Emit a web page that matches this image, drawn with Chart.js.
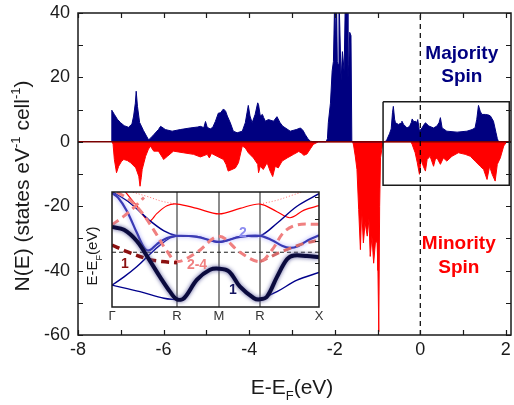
<!DOCTYPE html>
<html>
<head>
<meta charset="utf-8">
<script src="https://cdn.jsdelivr.net/npm/chart.js@4.4.0/dist/chart.umd.min.js"></script>
<style>
  body { margin: 0; background: #fff; }
  #wrap { position: relative; width: 514px; height: 405px; }
  #main { position: absolute; left: 0; top: 0; }
  #inset { position: absolute; left: 80px; top: 186px; }
</style>
</head>
<body>
<div id="wrap">
  <canvas id="main" width="514" height="405"></canvas>
  <canvas id="inset" width="250" height="140"></canvas>
</div>
<script>
// density of states, majority spin (E in eV, N in states/eV/cell)
let majE = [-7.22,-7.21,-7.15,-7.08,-7.01,-6.92,-6.82,-6.74,-6.70,-6.66,
  -6.64,-6.61,-6.56,-6.47,-6.40,-6.35,-6.30,-6.23,-6.12,-6.07,
  -6.00,-5.96,-5.80,-5.61,-5.38,-5.20,-5.14,-5.06,-5.02,-4.98,
  -4.91,-4.85,-4.79,-4.72,-4.67,-4.60,-4.55,-4.51,-4.44,-4.37,
  -4.28,-4.16,-4.09,-4.05,-4.02,-3.98,-3.93,-3.86,-3.80,-3.78,
  -3.74,-3.69,-3.66,-3.62,-3.55,-3.43,-3.35,-3.28,-3.22,-3.04,
  -2.90,-2.80,-2.74,-2.69,-2.63,-2.57,-2.50,-2.20,-2.17,-2.15,
  -2.10,-2.06,-2.03,-2.00,-1.98,-1.96,-1.94,-1.92,-1.90,-1.88,
  -1.85,-1.82,-1.78,-1.75,-1.71,-1.69,-1.67,-1.65,-1.62,-1.60,
  -0.82,-0.78,-0.72,-0.68,-0.65,-0.63,-0.60,-0.58,-0.51,-0.45,
  -0.43,-0.39,-0.31,-0.25,-0.21,-0.19,-0.15,-0.12,-0.08,-0.06,
  -0.02,0.04,0.08,0.12,0.20,0.31,0.39,0.44,0.47,0.51,
  0.62,0.86,1.09,1.21,1.28,1.32,1.36,1.40,1.44,1.52,
  1.60,1.64,1.71,1.77,1.80,1.83];
let majN = [0,9.8,8.5,7,6,5,4.5,5.5,8,12,
  15.7,11,6,3.5,1.8,0.6,1.2,2.2,3.8,4.8,
  4.2,3.8,3.3,3.8,4.3,4.6,4.8,4.4,6.3,4.5,
  4.0,4.5,6.3,8.9,9.0,10.2,9.5,8,5.9,3.3,
  2.8,3.3,5.9,9,11.3,8,5.9,8.5,12.1,11.5,
  8,8.5,7.5,6.4,6.9,6.4,7.8,6,4.9,3.3,
  3.8,4.3,3.5,2.3,1,0.2,0,0,1,5.9,
  12,22,25,45,30,46,25,24,45,35,
  19,28,22,46,45,20,24,34,33,0,
  0,0.7,2.5,4,9,11,7,5.9,5.4,5.8,
  6.4,5.4,4.3,4.8,6,7.1,6.2,6.4,6.0,6.9,
  3.3,4.3,5.2,5.9,4.9,4.3,4.9,6,7.5,4.3,
  3.3,3.0,3.3,3.8,4.3,7,11.3,9.5,8.5,8.5,
  8.3,8,6.4,2.8,1,0];

// minority spin (drawn negative)
let minE = [-7.20,-7.18,-7.15,-7.10,-7.05,-6.98,-6.93,-6.85,-6.77,-6.65,
  -6.58,-6.55,-6.52,-6.50,-6.42,-6.36,-6.31,-6.23,-6.12,-6.03,
  -6.00,-5.91,-5.77,-5.54,-5.30,-5.14,-4.98,-4.93,-4.88,-4.75,
  -4.60,-4.54,-4.49,-4.40,-4.32,-4.25,-4.16,-4.09,-4.02,-3.90,
  -3.80,-3.78,-3.74,-3.67,-3.58,-3.51,-3.45,-3.39,-3.32,-3.23,
  -3.11,-2.96,-2.84,-2.78,-2.72,-2.65,-2.56,-2.50,-2.38,-1.58,
  -1.56,-1.52,-1.48,-1.44,-1.40,-1.37,-1.33,-1.29,-1.24,-1.20,
  -1.17,-1.13,-1.09,-1.05,-1.01,-0.99,-0.97,-0.95,-0.93,-0.90,
  -0.87,-0.22,-0.19,-0.12,-0.07,-0.02,0.02,0.07,0.12,0.16,
  0.23,0.31,0.35,0.39,0.47,0.54,0.62,0.74,0.89,1.05,
  1.17,1.28,1.40,1.48,1.56,1.62,1.68,1.75,1.80,1.87,
  1.95,2.02];
let minN = [0,-0.8,-5.5,-9.6,-7.6,-6,-5.5,-5.8,-6.5,-8.1,
  -10.7,-13.8,-11,-8.6,-4.5,-2.5,-1.3,-2.9,-2.9,-4.8,
  -5.5,-4.5,-2.9,-3.4,-3.9,-4.7,-3.9,-5,-3.6,-4.5,
  -5.5,-7,-9.1,-8.6,-8.1,-6.5,-1.3,-1.9,-3.4,-5,
  -7,-9.6,-7.6,-8.6,-6.5,-9.1,-10.8,-7.6,-8.1,-6,
  -5,-3.9,-3.0,-3.5,-4.2,-3.8,-2,-0.8,0,0,
  -1,-4.4,-8.6,-21,-33.5,-21,-31.4,-25,-29.3,-24,
  -35.6,-29.3,-37.7,-31.4,-31,-40,-59,-20,-5,-2.4,
  0,0,-0.8,-3.4,-6.5,-10.1,-5.5,-7.6,-9.1,-5.5,
  -4.5,-7.6,-5.5,-5,-7,-5,-6,-4.5,-3.4,-3.9,
  -4.5,-6,-7.6,-8.6,-11.7,-7.6,-10.1,-12.2,-7,-5,
  -1.3,0];

// zoom box around the Fermi level
let boxE = [-0.87, 2.08, 2.08, -0.87, -0.87];
let boxN = [12.4, 12.4, -13.5, -13.5, 12.4];

// inset: band structure along the k path
let kTicks = [0, 65, 107, 148, 207];
let kLabels = ['Γ', 'R', 'M', 'R', 'X'];

let band1K = [0,12,25,37,48,58,65,72,85,98,107,117,128,142,148,155,165,175,182,195,207];
let band1E = [0.46,0.41,0.20,-0.13,-0.45,-0.72,-0.86,-0.84,-0.50,-0.32,-0.30,-0.35,-0.63,-0.84,-0.86,-0.81,-0.45,-0.13,-0.06,-0.07,-0.09];
let band2K = [0,6,15,25,33,38,45,55,65,85,107,128,148,160,170,178,186,196,207];
let band2E = [1.08,1.0,0.75,0.35,0.06,0.04,0.15,0.26,0.30,0.28,0.19,0.28,0.30,0.22,0.12,0.08,0.11,0.22,0.31];
let navyTopK = [0,18,37,52,65,85,107,128,148,165,185,207];
let navyTopE = [1.11,0.90,0.59,0.39,0.30,0.29,0.18,0.29,0.30,0.53,0.84,1.07];
let navyRiseK = [0,12,25,37,48,58,65];
let navyRiseE = [-0.60,-0.45,-0.26,-0.05,0.13,0.26,0.30];
let navyLowK = [0,28,52,65,107,148,165,185,207];
let navyLowE = [-0.60,-0.72,-0.84,-0.87,null,-0.86,-0.72,-0.51,-0.37];
let redK = [13,25,37,45,55,65,85,107,128,148,165,178,192,207];
let redE = [1.11,0.84,0.57,0.71,0.85,0.88,0.80,0.70,0.80,0.88,0.74,0.63,0.77,0.85];
let dotK = [18,35,50,65,107,148,165,180,192];
let dotE = [1.11,1.02,0.93,0.88,null,0.88,0.95,1.04,1.11];
let pinkK = [5,18,30,42,55,65,85,107,128,148,160,172,185,207];
let pinkE = [1.1,0.95,0.72,0.4,0.02,-0.17,0.0,0.29,0.0,-0.17,0.04,0.37,0.50,0.51];
let pinkLeftK = [0,12,22,32];
let pinkLeftE = [0.50,0.66,0.82,1.0];
let darkRedK = [0,15,37,50,65];
let darkRedE = [0.13,0.01,-0.13,-0.17,-0.19];
let rightDashK = [148,158,168,178,192,207];
let rightDashE = [-0.17,-0.09,0.0,0.07,0.16,0.22];
let fermiK = [0, 207];
let fermiE = [0, 0];

const FONT = '"Liberation Sans", Arial, sans-serif';

function pts(xs, ys) {
    return xs.map((x, i) => ({x: x, y: ys[i]}));
}

// text with sub/superscript pieces: [text, 0 normal | 1 sup | -1 sub]
function richText(ctx, parts, cx, cy, size, angle, color) {
    ctx.save();
    ctx.translate(cx, cy);
    ctx.rotate(angle);
    ctx.fillStyle = color;
    ctx.textBaseline = 'alphabetic';
    ctx.textAlign = 'left';
    let total = 0;
    let sized = parts.map(p => {
        let fs = p[1] === 0 ? size : Math.round(size * 0.62);
        ctx.font = fs + 'px ' + FONT;
        let w = ctx.measureText(p[0]).width;
        total += w;
        return [p[0], p[1], fs, w];
    });
    let x = -total / 2;
    sized.forEach(s => {
        ctx.font = s[2] + 'px ' + FONT;
        let dy = s[1] > 0 ? -size * 0.42 : (s[1] < 0 ? size * 0.3 : 0);
        ctx.fillText(s[0], x, dy);
        x += s[3];
    });
    ctx.restore();
}

// main plot decorations: frame, inward ticks, titles, labels
const mainDeco = {
    id: 'mainDeco',
    afterDraw(c) {
        const ctx = c.ctx, a = c.chartArea, x = c.scales.x, y = c.scales.y;
        ctx.save();
        ctx.strokeStyle = '#1a1a1a';
        ctx.lineWidth = 1.5;
        ctx.strokeRect(a.left, a.top, a.right - a.left, a.bottom - a.top);
        ctx.lineWidth = 1.2;
        ctx.beginPath();
        for (let v = -8; v <= 2; v++) {
            let px = Math.round(x.getPixelForValue(v)) + 0.5;
            ctx.moveTo(px, a.bottom); ctx.lineTo(px, a.bottom - 5);
            ctx.moveTo(px, a.top); ctx.lineTo(px, a.top + 5);
        }
        for (let v = -60; v <= 40; v += 10) {
            let py = Math.round(y.getPixelForValue(v)) + 0.5;
            ctx.moveTo(a.left, py); ctx.lineTo(a.left + 5, py);
            ctx.moveTo(a.right, py); ctx.lineTo(a.right - 5, py);
        }
        ctx.stroke();

        ctx.font = 'bold 19px ' + FONT;
        ctx.textAlign = 'center';
        ctx.textBaseline = 'alphabetic';
        ctx.fillStyle = '#000080';
        ctx.fillText('Majority', x.getPixelForValue(0.97), y.getPixelForValue(25.6));
        ctx.fillText('Spin', x.getPixelForValue(0.97), y.getPixelForValue(18.7));
        ctx.fillStyle = '#ff0000';
        ctx.fillText('Minority', x.getPixelForValue(0.9), y.getPixelForValue(-33.4));
        ctx.fillText('Spin', x.getPixelForValue(0.9), y.getPixelForValue(-40.6));
        ctx.restore();

        richText(ctx, [['N(E) (states eV', 0], ['-1', 1], [' cell', 0], ['-1', 1], [')', 0]],
            29, 186, 21, -Math.PI / 2, '#1a1a1a');
        richText(ctx, [['E-E', 0], ['F', -1], ['(eV)', 0]], 292, 394, 21, 0, '#1a1a1a');
    }
};

const tickFont = {family: FONT, size: 18};

new Chart(document.getElementById('main'), {
    type: 'line',
    data: {
        datasets: [
            {data: pts(boxE, boxN), borderColor: '#1a1a1a', borderWidth: 1.5, fill: false},
            {data: pts([0, 0], [-60, 40]), borderColor: '#000', borderWidth: 1.2, borderDash: [5, 4], fill: false},
            {data: pts([-8, 2.12], [0, 0]), borderColor: '#7a0000', borderWidth: 1.5, fill: false},
            {data: pts(majE, majN), borderColor: '#000080', backgroundColor: '#000080', borderWidth: 1, fill: 'origin'},
            {data: pts(minE, minN), borderColor: '#ff0000', backgroundColor: '#ff0000', borderWidth: 1, fill: 'origin'}
        ]
    },
    options: {
        responsive: false,
        animation: false,
        elements: {point: {radius: 0}, line: {tension: 0}},
        layout: {padding: {top: 13, right: 3, left: 0, bottom: 0}},
        plugins: {legend: {display: false}, tooltip: {enabled: false}},
        scales: {
            x: {
                type: 'linear', min: -8, max: 2.12,
                ticks: {stepSize: 2, includeBounds: false, font: tickFont, color: '#1a1a1a', padding: 4, maxRotation: 0},
                grid: {display: false, drawTicks: false},
                border: {display: false},
                afterFit(s) { s.height = 70; s.paddingLeft = 0; s.paddingRight = 0; }
            },
            y: {
                min: -60, max: 40,
                ticks: {stepSize: 20, font: tickFont, color: '#1a1a1a', padding: 8},
                grid: {display: false, drawTicks: false},
                border: {display: false},
                afterFit(s) { s.width = 78; s.paddingTop = 0; s.paddingBottom = 0; }
            }
        }
    },
    plugins: [mainDeco]
});

// soft glow behind the two highlighted bands (dataset indexes 0 and 5)
const glow = {0: '#5a5a9a', 5: '#a8a8ff'};

// inset decorations
const insetDeco = {
    id: 'insetDeco',
    beforeDraw(c) {
        const ctx = c.ctx, a = c.chartArea;
        ctx.save();
        ctx.fillStyle = '#fff';
        ctx.fillRect(a.left, a.top, a.right - a.left, a.bottom - a.top);
        ctx.restore();
    },
    beforeDatasetDraw(c, args) {
        c.ctx.save();
        if (glow[args.index]) {
            c.ctx.shadowColor = glow[args.index];
            c.ctx.shadowBlur = 4;
        }
    },
    afterDatasetDraw(c) {
        c.ctx.restore();
    },
    afterDatasetsDraw(c) {
        const ctx = c.ctx, x = c.scales.x, y = c.scales.y;
        ctx.save();
        ctx.font = 'bold 14px ' + FONT;
        ctx.textAlign = 'center';
        ctx.textBaseline = 'middle';
        ctx.fillStyle = '#8b1010';
        ctx.fillText('1', x.getPixelForValue(13), y.getPixelForValue(-0.22));
        ctx.fillStyle = '#f08080';
        ctx.fillText('2-4', x.getPixelForValue(85), y.getPixelForValue(-0.24));
        ctx.fillStyle = '#8c8cf0';
        ctx.fillText('2', x.getPixelForValue(131), y.getPixelForValue(0.35));
        ctx.fillStyle = '#141460';
        ctx.fillText('1', x.getPixelForValue(121), y.getPixelForValue(-0.69));
        ctx.restore();
    },
    afterDraw(c) {
        const ctx = c.ctx, a = c.chartArea, y = c.scales.y;
        ctx.save();
        ctx.strokeStyle = '#1a1a1a';
        ctx.lineWidth = 1.5;
        ctx.strokeRect(a.left, a.top, a.right - a.left, a.bottom - a.top);
        ctx.lineWidth = 1;
        ctx.beginPath();
        [1.0, 0.6, 0.2, -0.2, -0.6].forEach(v => {
            let py = Math.round(y.getPixelForValue(v)) + 0.5;
            ctx.moveTo(a.right, py); ctx.lineTo(a.right - 4, py);
        });
        ctx.stroke();
        ctx.restore();
        richText(ctx, [['E-E', 0], ['F', -1], ['(eV)', 0]], 17, 70, 15, -Math.PI / 2, '#1a1a1a');
    }
};

function bandSet(xs, ys, color, width, dash) {
    return {data: pts(xs, ys), borderColor: color, borderWidth: width, borderDash: dash || [], fill: false, spanGaps: false};
}

new Chart(document.getElementById('inset'), {
    type: 'line',
    data: {
        datasets: [
            bandSet(band1K, band1E, '#0b0b3e', 4),
            bandSet(darkRedK, darkRedE, '#8b1010', 3.5, [8, 5]),
            bandSet(pinkK, pinkE, '#f08080', 3, [8, 5]),
            bandSet(pinkLeftK, pinkLeftE, '#f08080', 3, [8, 5]),
            bandSet(rightDashK, rightDashE, '#d46a6a', 3, [8, 5]),
            bandSet(band2K, band2E, '#3a3ab4', 2.2),
            bandSet(navyTopK, navyTopE, '#00008b', 1.4),
            bandSet(navyRiseK, navyRiseE, '#00008b', 1.4),
            bandSet(navyLowK, navyLowE, '#00008b', 1.4),
            bandSet(redK, redE, '#ff0000', 1.2),
            bandSet(dotK, dotE, '#ff7070', 1, [1, 2]),
            bandSet(fermiK, fermiE, '#1a1a1a', 1, [4, 3])
        ]
    },
    options: {
        responsive: false,
        animation: false,
        elements: {point: {radius: 0}, line: {tension: 0.35}},
        layout: {padding: {top: 6, right: 11, left: 0, bottom: 0}},
        plugins: {legend: {display: false}, tooltip: {enabled: false}},
        scales: {
            x: {
                type: 'linear', min: 0, max: 207,
                afterBuildTicks(s) { s.ticks = kTicks.map(v => ({value: v})); },
                ticks: {
                    autoSkip: false, maxRotation: 0, padding: 2,
                    font: {family: FONT, size: 13}, color: '#333',
                    callback: (v, i) => kLabels[i]
                },
                grid: {
                    drawTicks: false,
                    lineWidth: 2,
                    color: ctx => (ctx.index === 0 || ctx.index === kTicks.length - 1) ? 'rgba(0,0,0,0)' : '#8c8c8c'
                },
                border: {display: false},
                afterFit(s) { s.height = 19; s.paddingLeft = 0; s.paddingRight = 0; }
            },
            y: {
                min: -1.0, max: 1.1,
                ticks: {display: false},
                grid: {display: false, drawTicks: false},
                border: {display: false},
                afterFit(s) { s.width = 32; s.paddingTop = 0; s.paddingBottom = 0; }
            }
        }
    },
    plugins: [insetDeco]
});
</script>
</body>
</html>
